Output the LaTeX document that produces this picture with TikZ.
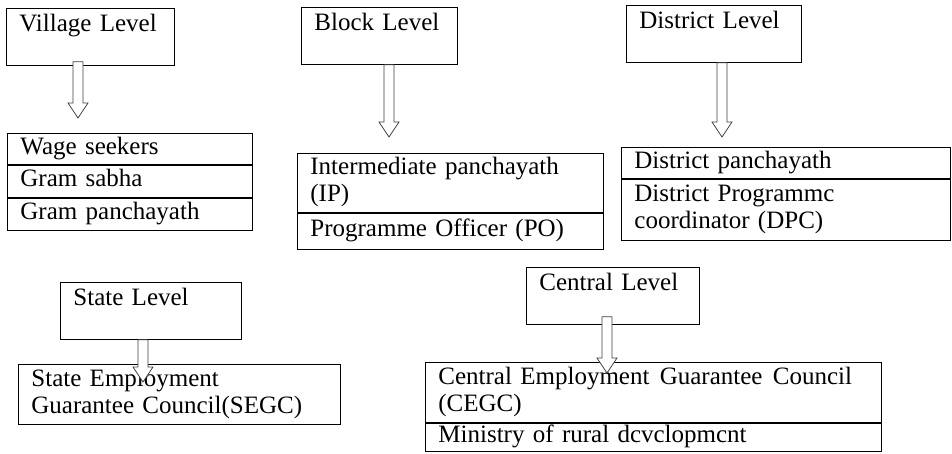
\documentclass[tikz,border=0pt]{standalone}
\usepackage{fontspec}
\setmainfont{Liberation Serif}
\usetikzlibrary{positioning,calc}
\tikzstyle{lvlbox}=[draw,anchor=north west,align=left,inner xsep=13pt,inner ysep=4pt,text height=19pt,text depth=30pt]
\tikzstyle{cell}=[draw,align=left,inner xsep=13pt,inner ysep=2pt,execute at begin node=\strut,execute at end node=\strut]
\tikzstyle{hollow}=[draw=black!75,fill=white,line width=0.8pt]
% downward block arrow from #1 to #2
\newcommand{\hollowarrow}[2]{%
  \draw[hollow] let \p1=(#1), \p2=(#2) in
    (\x1-5pt,\y1) -- (\x1+5pt,\y1) -- (\x1+5pt,\y2+15pt) -- (\x1+10pt,\y2+15pt)
    -- (\x1,\y2) -- (\x1-10pt,\y2+15pt) -- (\x1-5pt,\y2+15pt) -- cycle;}

\begin{document}
\begin{tikzpicture}[x=1pt,y=-1pt,line width=0.8pt,font=\fontsize{25}{27}\selectfont]
    \useasboundingbox (0,0) rectangle (952,453);

    % level boxes
    \node [lvlbox,text width=142pt] (vill) at (6,8) {Village Level};
    \node [lvlbox,text width=130pt] (block) at (301,7) {Block Level};
    \node [lvlbox,text width=149pt] (dist) at (626,5) {District Level};
    \node [lvlbox,text width=155pt] (state) at (60,282) {State Level};
    \node [lvlbox,text width=147pt] (cent) at (526,267) {Central Level};

    % village
    \node [cell,anchor=north west,text width=219pt,minimum height=31pt] (villa) at (7,133) {Wage seekers};
    \node [cell,text width=219pt,minimum height=32pt,below=0pt of villa] (villb) {Gram sabha};
    \node [cell,text width=219pt,minimum height=32pt,below=0pt of villb] (villc) {Gram panchayath};

    % block
    \node [cell,anchor=north west,text width=280pt,minimum height=59pt] (blocka) at (297,153) {Intermediate panchayath\\(IP)};
    \node [cell,text width=280pt,minimum height=36pt,below=0pt of blocka] (blockb) {Programme Officer (PO)};

    % district
    \node [cell,anchor=north west,text width=303pt,minimum height=31pt] (dista) at (621,147) {District panchayath};
    \node [cell,text width=303pt,minimum height=61pt,below=0pt of dista] (distb) {District Programmc\\coordinator (DPC)};

    % state
    \node [cell,anchor=north west,text width=296pt,minimum height=60pt] (statea) at (18,364) {State Employment\\Guarantee Council(SEGC)};

    % central
    \node [cell,anchor=north west,text width=430pt,minimum height=60pt] (centa) at (425,362) {Central Employment\hspace{2pt} Guarantee\hspace{2pt} Council\\(CEGC)};
    \node [cell,text width=430pt,inner ysep=0.5pt,minimum height=28pt,below=0pt of centa] (centb) {Ministry of rural dcvclopmcnt};

    \coordinate (villtip) at (78,118);
    \coordinate (blocktip) at (389,137);
    \coordinate (disttip) at (722,137);
    \coordinate (statetip) at (143,382);
    \coordinate (centtip) at (607,373);

    \hollowarrow{$(vill.south -| villtip)+(0,-4)$}{villtip}
    \hollowarrow{block.south -| blocktip}{blocktip}
    \hollowarrow{dist.south -| disttip}{disttip}
    \hollowarrow{state.south -| statetip}{statetip}
    \hollowarrow{$(cent.south -| centtip)+(0,-8)$}{centtip}
\end{tikzpicture}
\end{document}
